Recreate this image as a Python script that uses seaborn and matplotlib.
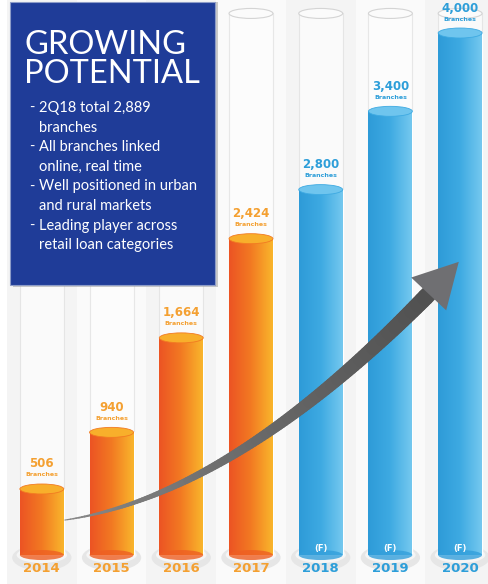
import numpy as np
import pandas as pd
import seaborn as sns
import matplotlib.pyplot as plt
from matplotlib.patches import Ellipse, Rectangle, Polygon
from matplotlib.colors import LinearSegmentedColormap
from matplotlib.collections import LineCollection

years = ["2014", "2015", "2016", "2017", "2018", "2019", "2020"]
branches = [506, 940, 1664, 2424, 2800, 3400, 4000]
forecast = [False, False, False, False, True, True, True]
value_labels = ["506", "940", "1,664", "2,424", "2,800", "3,400", "4,000"]
title = "GROWING\nPOTENTIAL"
bullets = [["2Q18 total 2,889", "branches"],
           ["All branches linked", "online, real time"],
           ["Well positioned in urban", "and rural markets"],
           ["Leading player across", "retail loan categories"]]

df = pd.DataFrame({"year": years, "branches": branches,
                   "kind": ["F" if f else "A" for f in forecast]})

orange_cmap = LinearSegmentedColormap.from_list("o", ["#ec5424", "#f27a22", "#f9b52c"])
blue_cmap = LinearSegmentedColormap.from_list("b", ["#2e9bd8", "#3eaae2", "#74c8ef"])
orange_txt = "#f4a031"
blue_txt = "#2d9ed9"

sns.set_style("white")
fig = plt.figure(figsize=(4.88, 5.84), dpi=100)
ax = fig.add_axes([0, 0, 1, 1])
px = 584 / 4475  # pixels per data unit on y
xlim, ylim = (-0.6, 6.4), (-222, 4253)

bw = 0.63
eh = 10 / px  # ellipse height in data units
tube_top = 4150

# faint background stripes
for i in range(len(years)):
    ax.axvspan(i - 0.5, i + 0.5, color="#f4f4f4" if i % 2 == 0 else "#fafafa", zorder=0, lw=0)

sns.barplot(data=df, x="year", y="branches", hue="kind", palette={"A": "#f27a22", "F": "#3eaae2"},
            width=bw, dodge=False, legend=False, ax=ax, zorder=3)
ax.set_xlim(*xlim)
ax.set_ylim(*ylim)
ax.axis("off")

grad = np.linspace(0, 1, 64).reshape(1, -1)
for i, (v, f) in enumerate(zip(branches, forecast)):
    cmap = blue_cmap if f else orange_cmap
    x0, x1 = i - bw / 2, i + bw / 2
    # glass tube
    ax.add_patch(Rectangle((x0, 0), bw, tube_top, facecolor="white", alpha=0.6,
                           edgecolor="#dadada", lw=0.8, zorder=1))
    ax.add_patch(Ellipse((i, tube_top), bw, eh, facecolor="#fbfbfb", edgecolor="#d4d4d4", lw=0.8, zorder=1))
    # base disc
    ax.add_patch(Ellipse((i, -20), bw * 1.35, eh * 2.6, facecolor="#e6e6e6", edgecolor="none", zorder=2))
    ax.add_patch(Ellipse((i, 0), bw * 1.15, eh * 1.6, facecolor="#f5f5f5", edgecolor="none", zorder=2))
    # gradient body
    im = ax.imshow(grad, cmap=cmap, aspect="auto", extent=(x0, x1, 0, v), zorder=4)
    clip = Rectangle((x0, 0), bw, v, transform=ax.transData, visible=False)
    ax.add_patch(clip)
    im.set_clip_path(clip)
    ax.add_patch(Ellipse((i, 0), bw, eh, facecolor=cmap(0.15), edgecolor="none", alpha=0.8, zorder=5))
    ax.add_patch(Ellipse((i, v), bw, eh, facecolor=cmap(0.95), edgecolor=cmap(0.5), lw=0.6, zorder=5))
    # labels
    col = blue_txt if f else orange_txt
    ax.text(i, v + 25 / px, value_labels[i], ha="center", va="center", fontsize=8.5,
            fontweight="bold", color=col, zorder=6)
    ax.text(i, v + 14 / px, "Branches", ha="center", va="center", fontsize=4.5,
            fontweight="bold", color=col, zorder=6)
    ax.text(i, -13 / px, years[i], ha="center", va="center", fontsize=9.5,
            fontweight="bold", color=col, zorder=6)
    if f:
        ax.text(i, 7 / px, "(F)", ha="center", va="center", fontsize=6,
                fontweight="bold", color="white", zorder=6)

ax.set_xlim(*xlim)
ax.set_ylim(*ylim)

# curved growth arrow (decoration)
p0, p1, p2 = np.array([0.33, 268]), np.array([3.0, 480]), np.array([6.18, 2360])
t = np.linspace(0, 0.9, 120)
pts = ((1 - t) ** 2)[:, None] * p0 + (2 * (1 - t) * t)[:, None] * p1 + (t ** 2)[:, None] * p2
segs = np.stack([pts[:-1], pts[1:]], axis=1)
lc = LineCollection(segs, linewidths=np.linspace(0.8, 12, len(segs)),
                    colors=[plt.cm.Greys(c) for c in np.linspace(0.55, 0.75, len(segs))],
                    capstyle="round", zorder=7)
ax.add_collection(lc)
fig.canvas.draw()
d = ax.transData.transform(np.array([pts[-1], p2]))
direc = d[1] - d[0]
direc /= np.linalg.norm(direc)
perp = np.array([-direc[1], direc[0]])
base = d[0]
tip = base + direc * 44
head = Polygon([base + perp * 24, tip, base - perp * 24], closed=True, transform=None,
               facecolor="#6f6f72", edgecolor="none", zorder=7)
ax.add_artist(head)

# blue text box
ax.add_patch(Rectangle((0.026, 0.508), 0.42, 0.488, transform=ax.transAxes, facecolor="#9a9a9a",
                       alpha=0.5, edgecolor="none", zorder=8))
ax.add_patch(Rectangle((0.02, 0.512), 0.42, 0.484, transform=ax.transAxes, facecolor="#1f3c98",
                       edgecolor="#8d9cc8", lw=0.8, zorder=9))
ax.text(0.05, 0.948, title, transform=ax.transAxes, ha="left", va="top", fontsize=23.5,
        color="white", family="Lato", linespacing=0.95, zorder=10)
ypos = 1 - 108 / 584
step = 19.6 / 584
for b in bullets:
    ax.text(0.06, ypos, "-", transform=ax.transAxes, ha="left", va="center", fontsize=10.5,
            color="white", family="Lato", zorder=10)
    for line in b:
        ax.text(0.08, ypos, line, transform=ax.transAxes, ha="left", va="center", fontsize=10.5,
                color="white", family="Lato", zorder=10)
        ypos -= step

fig.savefig("out.png", dpi=100)
